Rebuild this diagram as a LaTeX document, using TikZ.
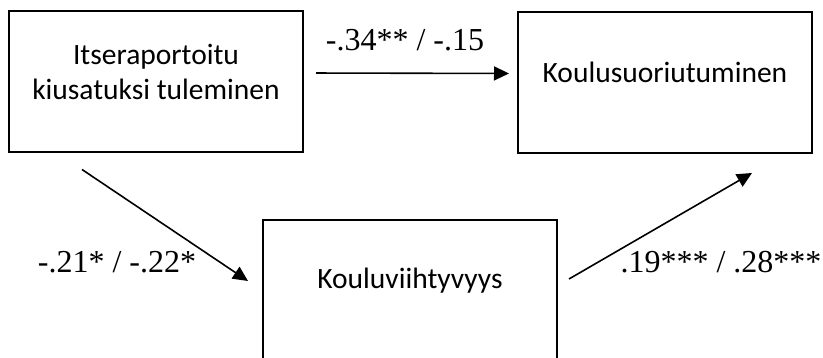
\documentclass[tikz,border=0pt]{standalone}
\usepackage{fontspec}
\setmainfont{Liberation Serif}
\newfontfamily\boxfont{Carlito}
\usetikzlibrary{arrows.meta}

\tikzset{
  varbox/.style={draw, line width=2pt, minimum width=294pt, minimum height=141pt, inner sep=0pt},
  boxtext/.style={font=\boxfont\fontsize{29.5}{35}\selectfont, align=center, inner sep=0pt},
  coef/.style={font=\fontsize{32}{38}\selectfont, inner sep=0pt},
  effarrow/.style={-{Triangle[length=15pt,width=14pt]}, line width=1.6pt}
}

\begin{document}
\begin{tikzpicture}[x=1pt, y=-1pt]
	\clip (0,0) rectangle (823,358);
	% muuttujat
	\node[varbox] (kius) at (156,82) {};
	\node[varbox] (koul) at (665,82.5) {};
	\node[varbox] (viiht) at (410,290.5) {};
	\node[boxtext] (kiustxt) at ([yshift=10pt]kius.center) {Itseraportoitu\\kiusatuksi tuleminen};
	\node[boxtext] (koultxt) at ([yshift=10pt]koul.center) {Koulusuoriutuminen};
	\node[boxtext] (viihttxt) at ([yshift=10pt]viiht.center) {Kouluviihtyvyys};
	% polut
	\draw[effarrow, shorten <=12pt, shorten >=8pt] ([yshift=9pt]kius.east) -- ([yshift=9pt]koul.west);
	\draw[effarrow] ([xshift=74pt,yshift=-16pt]kius.south west) -- ([xshift=-14pt,yshift=-62pt]viiht.north west);
	\draw[effarrow] ([xshift=11pt,yshift=-60pt]viiht.north east) -- ([xshift=-61pt,yshift=-19pt]koul.south east);
	% kertoimet
	\node[coef] (c) at (405,40) {-.34** / -.15};
	\node[coef] (a) at (117,262) {-.21* / -.22*};
	\node[coef] (b) at (721,262) {.19*** / .28***};
\end{tikzpicture}
\end{document}
